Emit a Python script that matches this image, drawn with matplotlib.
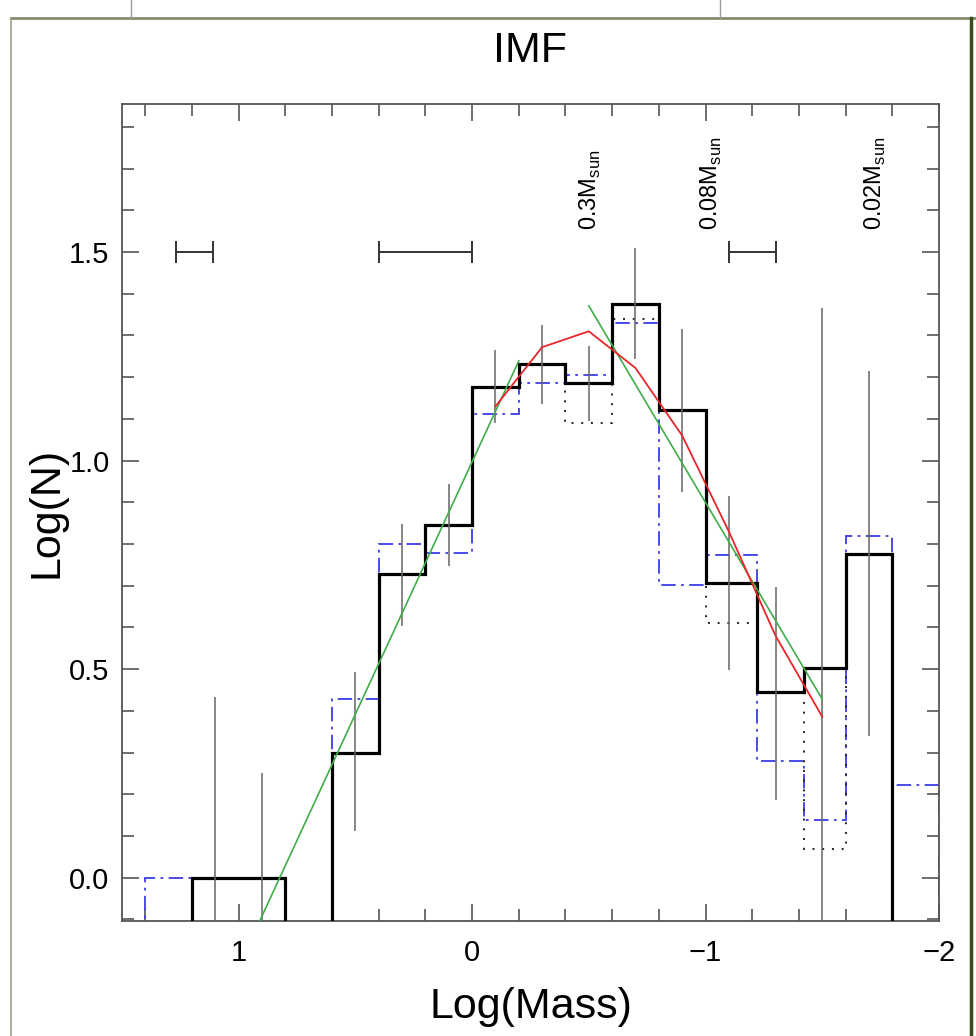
import numpy as np
import matplotlib
matplotlib.use("Agg")
import matplotlib.pyplot as plt
from matplotlib.lines import Line2D
from matplotlib.ticker import MultipleLocator, FixedLocator

plt.rcParams['font.family'] = ['Liberation Sans', 'DejaVu Sans']
plt.rcParams['mathtext.fontset'] = 'custom'
plt.rcParams['mathtext.rm'] = 'Liberation Sans'

# bin edges in Log(Mass), read from high mass to low mass
black_edges = [1.2, 1.0, 0.8, 0.6, 0.4, 0.2, 0.0, -0.2, -0.4, -0.6, -0.8, -1.0, -1.22, -1.42, -1.6, -1.8]
black_vals = [0.0, 0.0, np.nan, 0.30, 0.728, 0.845, 1.176, 1.231, 1.187, 1.376, 1.122, 0.706, 0.444, 0.502, 0.776]
dotted_vals = [0.0, 0.0, np.nan, 0.30, 0.728, 0.845, 1.176, 1.231, 1.091, 1.340, 1.122, 0.610, 0.444, 0.069, 0.776]

blue_edges = [1.4, 1.2, 0.6, 0.4, 0.2, 0.0, -0.2, -0.4, -0.6, -0.8, -1.0, -1.22, -1.42, -1.6, -1.8, -2.0]
blue_vals = [0.0, np.nan, 0.428, 0.800, 0.778, 1.111, 1.187, 1.205, 1.330, 0.702, 0.773, 0.280, 0.138, 0.818, 0.222]

# vertical error bars (nan = below the plot)
err_x = [1.1, 0.9, 0.5, 0.3, 0.1, -0.1, -0.3, -0.5, -0.7, -0.9, -1.1, -1.3, -1.5, -1.7]
err_lo = [np.nan, np.nan, 0.113, 0.604, 0.748, 1.090, 1.136, 1.096, 1.243, 0.924, 0.497, 0.186, np.nan, 0.340]
err_hi = [0.433, 0.250, 0.492, 0.848, 0.944, 1.266, 1.326, 1.275, 1.510, 1.315, 0.914, 0.698, 1.365, 1.216]

# horizontal bars at Log(N)=1.5
hbar_x = [1.19, 0.2, -1.2]
hbar_w = [0.078, 0.2, 0.1]
hbar_y = [1.5, 1.5, 1.5]

# fits
green1_x = [0.91, -0.2]
green1_y = [-0.104, 1.239]
green2_x = [-0.5, -1.5]
green2_y = [1.371, 0.428]
red_x = [-0.1, -0.3, -0.5, -0.7, -0.9, -1.1, -1.3, -1.5]
red_y = [1.13, 1.272, 1.31, 1.222, 1.06, 0.83, 0.58, 0.386]

mass_labels = ['0.3M$_{\\rm sun}$', '0.08M$_{\\rm sun}$', '0.02M$_{\\rm sun}$']
mass_label_x = [-0.506, -1.025, -1.73]

floor = -1.0  # empty bins drop below the axis


def stairs(ax, edges, vals, **kw):
    e = np.asarray(edges)[::-1]
    v = np.nan_to_num(np.asarray(vals, dtype=float), nan=floor)[::-1]
    ax.stairs(v, e, baseline=floor, fill=False, **kw)


fig = plt.figure(figsize=(9.76, 10.36), dpi=100)
ax = fig.add_axes([0.125, 0.111, 0.837, 0.789])

stairs(ax, blue_edges, blue_vals, color='#3b3be6', lw=1.3, linestyle=(0, (8, 3, 1.5, 3)), zorder=2)
stairs(ax, black_edges, dotted_vals, color='#222222', lw=1.4, linestyle=(0, (1, 4)), zorder=2)
stairs(ax, black_edges, black_vals, color='black', lw=2.3, zorder=3)

lo = np.nan_to_num(np.asarray(err_lo, dtype=float), nan=floor)
ax.vlines(err_x, lo, err_hi, color='#666666', lw=1.1, zorder=4)

ax.errorbar(hbar_x, hbar_y, xerr=hbar_w, fmt='none', ecolor='#333333',
            elinewidth=1.4, capsize=8, capthick=1.4)

ax.plot(green1_x, green1_y, color='#3fae49', lw=1.2, zorder=5)
ax.plot(green2_x, green2_y, color='#3fae49', lw=1.2, zorder=5)
ax.plot(red_x, red_y, color='#e8262b', lw=1.3, zorder=6)

for lab, lx in zip(mass_labels, mass_label_x):
    ax.text(lx, 1.553, lab, rotation=90, ha='center', va='bottom', fontsize=17)

ax.set_xlim(1.5, -2.0)
ax.set_ylim(-0.104, 1.856)

ax.xaxis.set_major_locator(FixedLocator([1, 0, -1, -2]))
ax.set_xticklabels(['1', '0', '\u22121', '\u22122'])
ax.xaxis.set_minor_locator(MultipleLocator(0.2))
ax.yaxis.set_major_locator(FixedLocator([0.0, 0.5, 1.0, 1.5]))
ax.set_yticklabels(['0.0', '0.5', '1.0', '1.5'])
ax.yaxis.set_minor_locator(MultipleLocator(0.1))

ax.tick_params(which='both', direction='in', top=True, right=True, color='#555555', width=1.2)
ax.tick_params(which='major', length=12.5, labelsize=21)
ax.tick_params(which='minor', length=8.5)
ax.tick_params(axis='x', which='major', pad=13)
ax.tick_params(axis='y', which='major', pad=9)
for s in ax.spines.values():
    s.set_color('#555555')
    s.set_linewidth(1.3)

ax.set_xlabel('Log(Mass)', fontsize=31, labelpad=14)
ax.set_ylabel('Log(N)', fontsize=31, labelpad=2)
ax.set_title('IMF', fontsize=31, pad=30)

# page frame around the figure
fig.add_artist(Line2D([0.0113, 1.0], [0.9826, 0.9826], transform=fig.transFigure, color='#8a8a70', lw=2))
fig.add_artist(Line2D([0.0113, 0.0113], [0.0, 0.9826], transform=fig.transFigure, color='#a0a088', lw=1.2))
fig.add_artist(Line2D([0.9949, 0.9949], [0.0, 0.9826], transform=fig.transFigure, color='#3a4a20', lw=2.5))
fig.add_artist(Line2D([0.134, 0.134], [0.9826, 1.0], transform=fig.transFigure, color='#999999', lw=1))
fig.add_artist(Line2D([0.738, 0.738], [0.9826, 1.0], transform=fig.transFigure, color='#999999', lw=1))

fig.savefig('out.png', dpi=100)
